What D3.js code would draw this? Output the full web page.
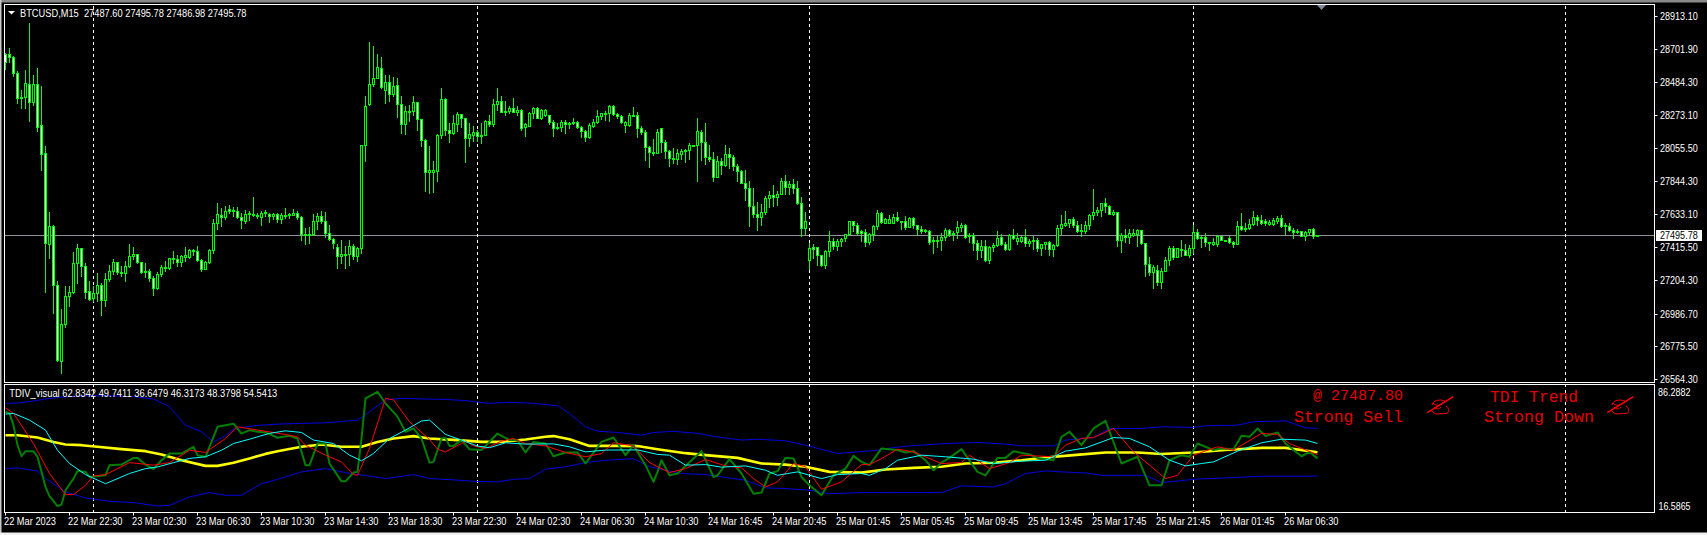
<!DOCTYPE html>
<html><head><meta charset="utf-8">
<script src="https://cdn.jsdelivr.net/npm/d3@7"></script>
<style>html,body{margin:0;padding:0;background:#000;overflow:hidden}svg{display:block}</style>
</head><body><svg id="c" width="1707" height="535"></svg>
<script>
const opens=[
28670,28670,28649,28545,28381,28390,28474,28355,28474,28206,
28025,27438,27553,27171,26681,26918,27099,27125,27315,27412,
27294,27130,27086,27121,27173,27074,27212,27261,27322,27257,
27250,27294,27360,27373,27322,27263,27261,27218,27151,27244,
27281,27283,27348,27339,27319,27356,27356,27399,27393,27335,
27276,27319,27397,27574,27626,27613,27665,27660,27652,27613,
27589,27628,27630,27626,27613,27635,27632,27617,27632,27596,
27622,27628,27626,27639,27613,27503,27496,27499,27587,27619,
27585,27509,27471,27419,27358,27369,27371,27425,27358,27408,
28077,28345,28472,28513,28578,28437,28487,28407,28465,28342,
28215,28301,28299,28355,28247,28109,27904,27906,27911,28144,
28377,28176,28157,28217,28280,28252,28122,28142,28163,28144,
28142,28235,28215,28342,28364,28299,28295,28319,28291,28306,
28193,28204,28284,28319,28252,28271,28271,28228,28196,28193,
28228,28222,28219,28228,28196,28170,28129,28204,28226,28263,
28284,28284,28329,28278,28267,28209,28209,28269,28273,28189,
28163,28064,28034,28027,28189,28099,28038,27995,27986,28021,
28038,28045,28081,28077,28163,28096,28001,27988,27870,27975,
27947,28021,28001,27941,27911,27833,27801,27684,27632,27613,
27643,27734,27755,27742,27762,27846,27805,27827,27801,27704,
27540,27332,27419,27419,27365,27298,27391,27458,27423,27458,
27473,27499,27587,27561,27518,27516,27449,27501,27553,27639,
27576,27572,27572,27613,27589,27587,27550,27606,27561,27535,
27529,27522,27460,27460,27462,27481,27529,27499,27514,27548,
27559,27496,27494,27445,27397,27425,27332,27417,27432,27483,
27438,27404,27496,27455,27455,27483,27442,27464,27464,27408,
27436,27449,27404,27430,27540,27563,27570,27600,27561,27529,
27520,27559,27624,27643,27656,27704,27682,27630,27645,27466,
27496,27481,27496,27499,27529,27445,27309,27255,27268,27190,
27261,27332,27408,27352,27404,27399,27363,27412,27516,27483,
27483,27449,27434,27434,27490,27464,27477,27451,27438,27555,
27535,27540,27566,27613,27594,27583,27568,27566,27589,27606,
27557,27555,27527,27524,27522,27488,27512,27535,27487.6];
const highs=[
28675,28707,28653,28556,28437,28562,28869,28532,28578,28463,
28070,27645,27557,27196,27013,27164,27164,27384,27438,27412,
27315,27196,27164,27250,27186,27250,27300,27341,27322,27294,
27326,27434,27419,27373,27322,27315,27276,27229,27255,27298,
27326,27348,27391,27369,27369,27419,27406,27406,27423,27337,
27330,27402,27596,27704,27671,27682,27691,27678,27678,27639,
27654,27650,27742,27639,27650,27660,27639,27639,27635,27635,
27671,27639,27665,27650,27617,27542,27546,27632,27635,27648,
27643,27563,27477,27434,27466,27423,27466,27434,27419,28081,
28394,28746,28718,28664,28649,28534,28528,28519,28513,28394,
28329,28340,28394,28357,28247,28114,28070,27976,28150,28448,
28381,28222,28275,28293,28280,28254,28222,28204,28178,28222,
28239,28269,28373,28444,28398,28360,28329,28379,28329,28312,
28222,28293,28323,28323,28312,28312,28275,28237,28222,28239,
28239,28228,28254,28232,28204,28178,28222,28247,28304,28286,
28297,28338,28334,28282,28275,28232,28282,28321,28293,28204,
28174,28070,28114,28183,28191,28109,28045,28060,28049,28049,
28049,28092,28081,28254,28174,28222,28081,28032,28006,27995,
28081,28060,28010,27952,27919,27913,27846,27801,27712,27699,
27747,27779,27820,27779,27865,27881,27844,27859,27844,27742,
27645,27445,27440,27419,27367,27397,27522,27477,27471,27477,
27503,27589,27589,27570,27527,27531,27505,27557,27660,27647,
27606,27622,27628,27647,27589,27617,27611,27611,27563,27553,
27537,27525,27483,27488,27505,27542,27535,27520,27583,27574,
27568,27509,27509,27460,27466,27466,27427,27445,27524,27499,
27449,27503,27535,27509,27492,27535,27471,27488,27477,27438,
27451,27455,27434,27559,27622,27652,27600,27613,27585,27568,
27589,27632,27790,27678,27704,27732,27691,27654,27645,27509,
27531,27531,27535,27537,27529,27445,27354,27300,27298,27283,
27354,27427,27427,27412,27460,27434,27430,27563,27531,27488,
27505,27451,27477,27496,27492,27464,27492,27458,27589,27635,
27574,27600,27652,27622,27622,27596,27591,27606,27617,27622,
27570,27570,27542,27531,27524,27518,27535,27542,27495.78];
const lows=[
28573,28614,28524,28347,28316,28316,28232,28334,28168,27919,
27125,27345,26991,26679,26603,26901,27035,27121,27186,27229,
27089,27074,27067,27067,26976,27035,27196,27246,27246,27229,
27196,27289,27337,27315,27250,27225,27196,27106,27143,27233,
27261,27276,27315,27294,27294,27326,27345,27369,27326,27261,
27272,27315,27380,27531,27553,27596,27639,27617,27607,27540,
27570,27591,27617,27607,27559,27617,27578,27596,27578,27570,
27607,27607,27622,27596,27466,27440,27445,27494,27531,27574,
27484,27462,27412,27283,27315,27281,27300,27337,27326,27380,
27973,28340,28459,28509,28448,28351,28362,28394,28260,28157,
28146,28232,28275,28174,28070,27779,27768,27773,27848,28122,
28140,28096,28146,28168,28196,27967,28070,28103,28103,28092,
28140,28200,28200,28303,28291,28271,28282,28291,28275,28178,
28135,28200,28254,28254,28247,28265,28211,28135,28183,28168,
28157,28189,28211,28189,28131,28103,28124,28196,28222,28247,
28243,28232,28275,28254,28222,28161,28204,28265,28129,28152,
27984,27935,28010,28023,28032,27995,27941,27963,27958,27988,
27967,27988,28077,27844,27984,27952,27973,27844,27870,27887,
27941,27930,27919,27848,27829,27719,27553,27613,27527,27563,
27628,27678,27682,27689,27758,27758,27758,27768,27699,27488,
27499,27272,27348,27298,27294,27281,27358,27406,27397,27423,
27455,27496,27520,27499,27455,27423,27434,27462,27531,27574,
27574,27570,27570,27585,27535,27531,27544,27542,27494,27505,
27514,27440,27376,27419,27401,27466,27492,27466,27477,27520,
27479,27451,27397,27337,27354,27330,27311,27389,27423,27432,
27395,27401,27471,27440,27449,27421,27421,27406,27393,27369,
27406,27363,27358,27427,27499,27553,27548,27548,27516,27488,
27505,27535,27596,27622,27617,27647,27628,27626,27423,27382,
27451,27445,27488,27427,27434,27229,27235,27155,27171,27155,
27259,27304,27337,27350,27358,27363,27350,27380,27471,27419,
27423,27401,27430,27427,27462,27455,27445,27417,27434,27527,
27518,27535,27563,27557,27568,27563,27563,27561,27570,27550,
27503,27520,27473,27505,27488,27460,27499,27479,27486.98];
const closes=[
28616,28649,28545,28381,28390,28480,28355,28474,28196,28021,
27445,27553,27173,26689,26920,27099,27125,27315,27412,27294,
27127,27084,27119,27173,27074,27212,27261,27322,27255,27250,
27294,27360,27373,27322,27257,27255,27218,27153,27246,27289,
27289,27348,27339,27319,27358,27363,27397,27393,27335,27276,
27322,27397,27574,27630,27613,27652,27652,27652,27613,27594,
27632,27635,27624,27619,27637,27645,27619,27632,27596,27626,
27626,27622,27639,27613,27499,27496,27503,27587,27619,27585,
27509,27471,27443,27358,27373,27373,27423,27358,27412,28077,
28332,28472,28513,28582,28455,28487,28407,28459,28342,28215,
28301,28295,28357,28247,28109,27904,27913,27917,28144,28377,
28174,28157,28222,28280,28252,28122,28150,28161,28135,28135,
28235,28215,28345,28364,28291,28291,28319,28293,28306,28191,
28211,28288,28319,28254,28306,28306,28224,28187,28187,28228,
28215,28213,28228,28193,28168,28129,28209,28228,28267,28284,
28288,28332,28278,28263,28226,28228,28273,28275,28187,28161,
28064,28032,28025,28163,28096,28038,27993,27986,28023,28038,
28047,28079,28077,28170,28096,27999,27986,27870,27975,27947,
28021,27999,27941,27911,27833,27799,27682,27630,27613,27645,
27734,27755,27740,27762,27846,27805,27827,27799,27704,27540,
27587,27412,27406,27367,27298,27393,27458,27421,27458,27471,
27501,27587,27559,27505,27505,27449,27501,27555,27639,27578,
27598,27600,27613,27591,27585,27550,27606,27559,27533,27522,
27520,27449,27455,27466,27483,27529,27499,27509,27548,27557,
27481,27490,27442,27397,27425,27332,27419,27432,27477,27436,
27404,27496,27477,27475,27483,27442,27458,27455,27408,27438,
27449,27404,27432,27542,27566,27572,27598,27559,27524,27520,
27561,27626,27645,27658,27704,27680,27630,27645,27462,27496,
27481,27509,27507,27529,27442,27307,27255,27289,27190,27263,
27335,27412,27352,27408,27397,27365,27412,27516,27475,27477,
27449,27447,27449,27492,27462,27455,27449,27434,27555,27535,
27542,27566,27613,27591,27572,27572,27581,27594,27606,27553,
27553,27527,27514,27514,27488,27514,27533,27486,27495.78];

const priceTicks=["28913.10","28701.90","28484.30","28273.10","28055.50","27844.30","27633.10","27415.50","27204.30","26986.70","26775.50","26564.30"];
const currentPrice=27495.78;
const timeLabels=["22 Mar 2023","22 Mar 22:30","23 Mar 02:30","23 Mar 06:30","23 Mar 10:30","23 Mar 14:30","23 Mar 18:30","23 Mar 22:30","24 Mar 02:30","24 Mar 06:30","24 Mar 10:30","24 Mar 16:45","24 Mar 20:45","25 Mar 01:45","25 Mar 05:45","25 Mar 09:45","25 Mar 13:45","25 Mar 17:45","25 Mar 21:45","26 Mar 01:45","26 Mar 06:30"];
const timeLabelBars=[0,16,32,48,64,80,96,112,128,144,160,176,192,208,224,240,256,272,288,304,320];
const separatorBars=[22,118,201,297,390];
const shiftMarkBar=329;

const upperBars=[0,3,7,10,14,20,26,32,37,41,45,49,52,55,57,62,68,74,80,88,91,95,99,105,110,115,121,125,131,138,141,145,148,153,159,162,167,173,177,184,188,195,200,208,213,218,222,226,235,243,250,254,262,265,272,276,284,289,297,300,308,312,320,325,328];
const upperValues=[76.6,76.8,77.9,79.0,80.1,80.8,80.8,80.3,79.0,74.8,64.6,61.0,55.4,58.8,62.4,64.3,65.2,65.6,65.9,67.4,72.0,78.5,79.4,79.0,78.8,78.1,76.6,77.2,76.8,75.3,71.1,63.7,61.3,60.6,59.1,60.6,61.2,60.1,58.4,56.4,56.9,56.0,53.6,49.0,49.9,50.8,52.3,53.2,54.5,55.1,54.2,53.2,53.2,56.4,57.7,62.8,62.8,63.7,63.4,64.3,64.6,66.5,67.0,63.2,62.8342];
const lowerBars=[0,3,8,10,15,20,26,32,38,41,46,51,55,59,64,68,74,80,85,95,102,106,112,117,123,127,131,135,140,145,150,157,161,169,175,180,185,190,195,201,206,214,222,234,239,247,250,255,260,264,270,274,285,289,294,297,305,314,325,328];
const lowerValues=[40.7,41.1,39.3,35.2,27.9,24.5,22.7,22.0,20.1,20.5,25.1,27.5,26.0,26.0,32.4,34.8,38.9,40.7,38.5,35.2,37.4,35.2,34.5,33.7,33.4,34.8,35.2,40.4,41.7,44.0,45.3,46.2,41.7,38.0,37.4,35.8,34.3,30.1,29.7,28.8,26.9,27.5,27.5,27.5,31.2,30.6,32.4,38.0,39.4,38.9,38.3,37.0,37.0,33.0,34.1,34.8,35.6,36.5,36.5,36.6479];
const middleBars=[0,3,8,12,15,19,23,29,35,39,44,50,53,57,61,65,68,74,79,84,89,93,97,102,106,113,119,124,130,135,137,141,146,153,158,163,170,175,183,189,195,200,206,214,220,227,234,240,247,254,260,267,275,283,289,297,305,314,320,328];
const middleValues=[59.1,59.1,57.8,55.4,54.0,53.6,52.7,51.4,50.3,48.5,45.3,42.2,42.2,43.9,46.3,48.8,50.3,52.7,54.0,52.7,52.7,55.4,57.3,58.6,57.3,56.4,55.4,55.4,56.7,58.2,58.6,56.9,53.2,53.2,53.1,51.4,49.2,48.1,46.6,43.5,42.9,41.7,38.9,38.5,40.2,41.1,41.7,43.5,43.9,45.3,46.8,48.1,49.6,49.6,48.7,49.6,50.9,52.1,52.1,49.7411];
const cyanBars=[0,2,6,10,13,16,20,25,31,35,38,42,46,50,54,57,61,66,70,74,77,82,86,89,92,96,100,104,106,110,114,118,121,125,130,137,141,145,150,158,163,166,170,175,179,185,190,193,198,204,208,214,216,220,223,229,235,242,247,254,260,265,270,277,281,286,291,295,299,302,308,314,319,325,328];
const cyanValues=[70.7,71.1,67.4,61.9,50.8,43.5,37.4,32.4,38.0,40.7,41.6,44.0,46.3,47.2,50.8,54.5,56.9,60.1,61.5,60.6,56.4,54.5,48.1,45.0,49.0,57.3,61.9,66.9,67.4,59.5,56.4,53.1,52.2,54.9,54.2,54.3,52.7,49.9,50.9,51.0,48.5,48.1,42.6,42.9,41.5,42.2,39.8,37.0,38.9,35.2,37.4,38.0,37.0,40.7,45.3,48.1,47.2,45.9,43.5,44.8,45.3,50.3,52.1,57.8,57.3,52.7,45.3,42.2,43.5,44.4,50.3,54.9,56.9,56.4,54.5413];
const redBars=[0,2,7,11,15,17,20,22,25,31,37,41,46,50,55,58,63,70,73,75,80,84,87,88,91,95,97,101,106,108,110,115,117,120,124,127,130,135,140,145,149,152,157,161,166,170,175,180,184,187,190,193,197,200,204,209,214,216,219,223,227,234,239,241,246,251,254,262,265,269,272,277,282,286,290,293,297,303,307,314,318,321,328];
const redValues=[74.2,71.1,54.5,38.0,26.4,26.4,31.5,36.7,37.4,44.0,42.6,44.0,50.8,49.6,57.3,63.7,61.9,59.5,58.2,53.6,48.1,44.4,37.4,37.0,51.8,79.4,78.5,66.5,56.8,51.4,49.9,55.8,53.2,51.8,55.8,57.3,54.5,53.2,49.6,47.2,49.0,54.9,53.2,44.0,38.5,40.7,45.7,42.2,41.1,35.2,30.6,33.4,43.5,41.7,29.3,33.4,42.9,42.9,46.2,51.4,49.9,43.5,44.0,48.1,40.7,44.0,48.1,47.2,53.6,57.3,57.8,62.8,49.9,42.6,35.2,37.0,48.1,52.7,50.9,60.1,59.5,54.5,48.3798];
const greenBars=[0,1,2,3,4,5,7,8,10,11,13,14,15,17,18,20,21,25,26,29,32,33,35,37,39,41,44,47,48,50,53,57,59,61,63,65,68,71,73,75,76,78,80,81,84,85,87,88,89,90,93,95,98,100,102,104,106,107,109,110,111,112,114,116,119,123,126,128,130,132,135,137,140,143,145,149,152,155,157,160,162,163,164,166,168,172,174,177,178,181,184,187,189,191,193,195,197,199,201,204,207,210,212,214,216,219,223,225,227,230,232,234,236,239,243,245,248,250,252,256,258,262,264,266,269,272,275,279,283,286,289,291,294,296,298,302,304,307,309,311,313,315,318,320,324,326,328];
const greenValues=[72.0,71.1,64.6,53.6,47.5,50.3,50.3,47.2,30.6,25.6,20.1,20.9,28.8,35.2,39.4,38.9,36.1,37.0,42.6,42.9,46.6,46.6,42.9,40.4,45.3,49.0,49.0,52.7,48.1,47.2,63.7,65.4,60.0,61.9,61.0,60.6,57.7,58.8,57.3,42.6,42.6,54.5,54.5,43.5,33.7,33.7,38.5,38.9,57.3,79.4,83.0,76.6,69.3,61.0,62.8,57.3,44.0,44.4,57.3,57.7,53.2,53.2,56.4,51.4,50.9,60.0,56.4,56.4,49.6,55.4,54.5,47.5,49.6,49.6,43.5,55.4,57.8,48.1,53.6,42.6,33.4,38.9,45.3,37.0,38.0,46.3,50.3,36.1,37.0,45.9,38.0,26.9,27.5,38.0,39.3,46.6,46.3,36.1,31.5,26.0,37.0,40.7,47.7,44.4,42.6,51.8,50.9,49.6,50.3,45.3,39.8,44.0,46.6,51.4,38.9,37.0,46.6,46.6,50.3,48.5,46.6,45.3,58.2,61.0,53.6,62.8,67.0,43.5,47.2,31.5,31.5,45.3,48.1,47.2,54.5,50.9,51.8,51.4,58.8,58.2,62.8,58.6,60.6,54.5,47.5,49.9,46.3173];

const headerText="BTCUSD,M15  27487.60 27495.78 27486.98 27495.78";
const panelText="TDIV_visual 62.8342 49.7411 36.6479 46.3173 48.3798 54.5413";
const panelScaleLabels=["86.2882","16.5865"];

const W=1707,H=535,L=4.5,R=1654.5,T1=4.5,B1=382.5,T2=384.5,B2=512.5;
const font='"Liberation Sans",Arial,sans-serif';
const svg=d3.select("#c");
svg.append("rect").attr("width",W).attr("height",H).attr("fill","#000");
svg.append("rect").attr("width",W).attr("height",2.5).attr("fill","#8a8a8a");
svg.append("rect").attr("width",1.5).attr("height",H).attr("fill","#c8c8c8");
svg.append("rect").attr("y",532.5).attr("width",W).attr("height",2.5).attr("fill","#f0f0f0");

const x=d3.scaleLinear().domain([0,412]).range([5.5,5.5+4*412]);
const yP=d3.scaleLinear().domain([26564.3,28913.1]).range([379.3,16.5]);
const yI=d3.scaleLinear().domain([16.5865,86.2882]).range([512.4,385.8]);

const defs=svg.append("defs");
defs.append("clipPath").attr("id","main").append("rect").attr("x",L).attr("y",T1).attr("width",R-L).attr("height",B1-T1);
defs.append("clipPath").attr("id","ind").append("rect").attr("x",L).attr("y",T2).attr("width",R-L).attr("height",B2-T2);

const crisp=v=>Math.round(v-0.5)+0.5;
const main=svg.append("g").attr("clip-path","url(#main)");
const ind=svg.append("g").attr("clip-path","url(#ind)");

// current price line
main.append("line").attr("x1",L).attr("x2",R).attr("y1",crisp(yP(currentPrice))).attr("y2",crisp(yP(currentPrice))).attr("stroke","#8f9296").attr("stroke-width",1);

// separators
[main,ind].forEach(g=>g.selectAll("line.sep").data(separatorBars).join("line").attr("class","sep")
  .attr("x1",d=>x(d)).attr("x2",d=>x(d)).attr("y1",0).attr("y2",H)
  .attr("stroke","#fff").attr("stroke-width",1).attr("stroke-dasharray","3,3"));

// candles
const idx=d3.range(opens.length);
const green="#00ff00";
main.selectAll("line.w").data(idx).join("line").attr("class","w")
  .attr("x1",i=>x(i)).attr("x2",i=>x(i))
  .attr("y1",i=>crisp(yP(highs[i]))-0.5).attr("y2",i=>crisp(yP(lows[i]))+0.5)
  .attr("stroke",green).attr("stroke-width",1);
main.selectAll("rect.b").data(idx).join("rect").attr("class","b")
  .attr("x",i=>x(i)-1)
  .attr("y",i=>crisp(yP(Math.max(opens[i],closes[i]))))
  .attr("width",2)
  .attr("height",i=>Math.max(1,crisp(yP(Math.min(opens[i],closes[i])))-crisp(yP(Math.max(opens[i],closes[i])))))
  .attr("fill",i=>closes[i]>=opens[i]?"#000":"#fff")
  .attr("stroke",green).attr("stroke-width",1);

// indicator lines
const lineSets=[
 [upperBars,upperValues,"#0000e0",1],
 [middleBars,middleValues,"#ffff00",2.6],
 [lowerBars,lowerValues,"#0000e0",1],
 [greenBars,greenValues,"#008000",2],
 [redBars,redValues,"#ff0000",1],
 [cyanBars,cyanValues,"#00ffff",1]];
const lineGen=d3.line().x(d=>x(d[0])).y(d=>yI(d[1])).curve(d3.curveLinear);
lineSets.forEach(([b,v,c,w])=>{
  ind.append("path").attr("d",lineGen(b.map((k,i)=>[k,v[i]]))).attr("fill","none").attr("stroke",c).attr("stroke-width",w).attr("stroke-linejoin","round");
});

// frames
[[T1,B1],[T2,B2]].forEach(([a,b])=>svg.append("rect").attr("x",L).attr("y",a).attr("width",R-L).attr("height",b-a).attr("fill","none").attr("stroke","#fff").attr("stroke-width",1));

// shift mark
svg.append("path").attr("d",d3.line()([[x(shiftMarkBar)-4.5,5],[x(shiftMarkBar)+4.5,5],[x(shiftMarkBar),10]])+"Z").attr("fill","#7b8b9b");

function label(t,xp,yp,len,opts={}){
  const s=svg.append("text").attr("x",xp).attr("y",yp).text(t).attr("font-family",opts.family||font)
   .attr("font-size",opts.size||10.5).attr("fill",opts.fill||"#fff").attr("dominant-baseline","alphabetic").attr("xml:space","preserve").style("white-space","pre");
  if(len) s.attr("textLength",len).attr("lengthAdjust","spacingAndGlyphs");
  return s;
}
// price axis
priceTicks.forEach(t=>{
  const y=crisp(yP(+t));
  svg.append("line").attr("x1",R).attr("x2",R+3).attr("y1",y).attr("y2",y).attr("stroke","#fff");
  label(t,1660,y+3.8,37.7);
});
const cy=crisp(yP(currentPrice));
svg.append("rect").attr("x",1656).attr("y",cy-5.5).attr("width",46).attr("height",11).attr("fill","#fff");
label(currentPrice.toFixed(2),1660,cy+3.8,37.7,{fill:"#000"});

// indicator scale
label(panelScaleLabels[0],1658,395.5,32.5);
label(panelScaleLabels[1],1658.5,509.5,32);

// time axis
timeLabelBars.forEach((b,i)=>{
  svg.append("line").attr("x1",x(b)).attr("x2",x(b)).attr("y1",B2).attr("y2",B2+3).attr("stroke","#fff");
  label(timeLabels[i],x(b)-1.5,525,i===0?52:54.5);
});

// headers
svg.append("path").attr("d",d3.line()([[8,11],[15,11],[11.5,14.5]])+"Z").attr("fill","#fff");
label(headerText,20,16.5,226.5);
label(panelText,9.3,397,268);

// red signal text
const mono={family:'"Liberation Mono","Courier New",monospace',fill:"#e60000"};
label("@ 27487.80",1313,400,90,{...mono,size:15});
label("Strong Sell",1294,421.5,109,{...mono,size:16.5});
label("TDI Trend",1490,401.5,88,{...mono,size:16.5});
label("Strong Down",1484,421.5,110,{...mono,size:16.5});

// pen-in-hand glyphs
[0,180].forEach(dx=>{
  const g=svg.append("g").attr("transform",`translate(${1420+dx},390)`).attr("fill","none").attr("stroke","#ff0000");
  g.append("path").attr("d","M7.3 22.7L33.3 6.7").attr("stroke-width",1.5);
  g.append("path").attr("d","M12 15C13 11 16 10.5 20 10C23 10 25 11 26 12M26 16C29 17 29 22 27.5 23C24 24.5 20 23 18 24C15 24 13 23 11 20").attr("stroke-width",1);
  g.append("path").attr("d","M13 13C16 16 19 16 23 13M14 17C17 20 19 19 21 17").attr("stroke-width",1);
});
</script></body></html>
